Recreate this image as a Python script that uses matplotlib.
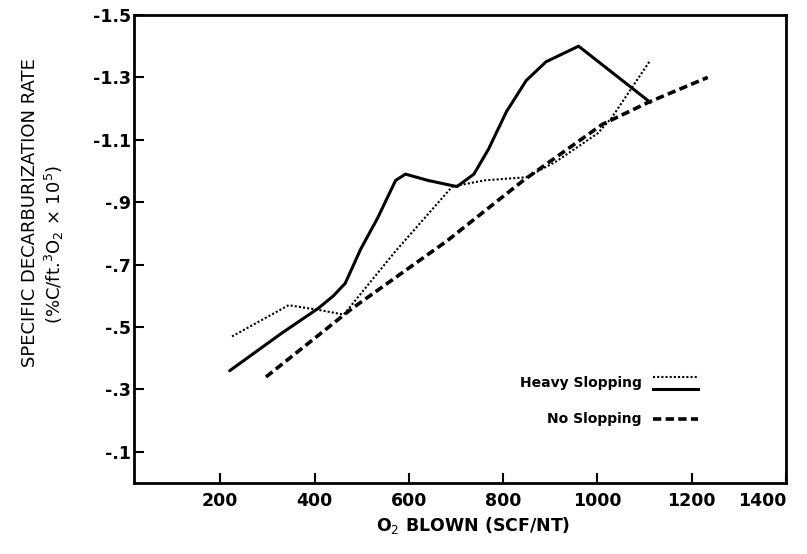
import matplotlib
matplotlib.use("Agg")
import matplotlib.pyplot as plt

# O2 blown (SCF/NT) vs specific decarburization rate
heavy_solid_o2 = [220, 330, 408, 440, 465, 498, 534, 572, 593, 640, 702, 738, 769, 807, 849, 891, 960, 1112]
heavy_solid_rate = [-0.36, -0.48, -0.56, -0.60, -0.64, -0.75, -0.85, -0.97, -0.99, -0.97, -0.95,
                    -0.99, -1.07, -1.19, -1.29, -1.35, -1.40, -1.22]

heavy_dotted_o2 = [225, 345, 408, 462, 570, 692, 760, 850, 912, 1000, 1030, 1110]
heavy_dotted_rate = [-0.47, -0.57, -0.555, -0.54, -0.74, -0.95, -0.97, -0.98, -1.03, -1.12, -1.17, -1.35]

no_slop_o2 = [297, 480, 680, 843, 1011, 1108, 1234]
no_slop_rate = [-0.34, -0.56, -0.775, -0.97, -1.15, -1.22, -1.30]

x_ticks = [200, 400, 600, 800, 1000, 1200, 1400]
x_tick_labels = ["200", "400", "600", "800", "1000", "1200", "1400"]
y_ticks = [-1.5, -1.3, -1.1, -0.9, -0.7, -0.5, -0.3, -0.1]
y_tick_labels = ["-1.5", "-1.3", "-1.1", "-.9", "-.7", "-.5", "-.3", "-.1"]

fig = plt.figure(figsize=(8.07, 5.54), dpi=100)
ax = fig.add_axes([0.166, 0.128, 0.808, 0.845])

ax.plot(heavy_solid_o2, heavy_solid_rate, color="black", lw=2.2,
        solid_joinstyle="round", solid_capstyle="round")
ax.plot(heavy_dotted_o2, heavy_dotted_rate, color="black", lw=1.5,
        linestyle=(0, (1.0, 1.0)))
ax.plot(no_slop_o2, no_slop_rate, color="black", lw=2.6, dashes=(2.3, 1.2))

ax.set_xlim(17, 1400)
ax.set_ylim(0, -1.5)

ax.set_xticks(x_ticks)
ax.set_xticklabels(x_tick_labels, fontsize=12.5, fontweight="bold")
ax.set_yticks(y_ticks)
ax.set_yticklabels(y_tick_labels, fontsize=12.5, fontweight="bold")

# the last x label sits at the right edge, so right-align it to keep it inside
ax.get_xticklabels()[-1].set_horizontalalignment("right")

for spine in ax.spines.values():
    spine.set_linewidth(2.0)
ax.tick_params(axis="both", direction="in", length=7, width=1.5)
ax.tick_params(axis="x", pad=6.5)
ax.tick_params(axis="y", pad=2)

# legend drawn by hand: two strokes for the heavy-slopping pair
ax.text(0.779, 0.214, "Heavy Slopping", transform=ax.transAxes, ha="right",
        va="center", fontsize=10, fontweight="bold")
ax.text(0.779, 0.137, "No Slopping", transform=ax.transAxes, ha="right",
        va="center", fontsize=10, fontweight="bold")
ax.plot([0.796, 0.865], [0.226, 0.226], transform=ax.transAxes, color="black",
        lw=1.5, linestyle=(0, (1.0, 1.0)))
ax.plot([0.796, 0.865], [0.201, 0.201], transform=ax.transAxes, color="black", lw=2.2)
ax.plot([0.796, 0.865], [0.137, 0.137], transform=ax.transAxes, color="black",
        lw=2.6, dashes=(2.3, 1.2))

fig.text(0.037, 0.617, "SPECIFIC DECARBURIZATION RATE", rotation=90,
         ha="center", va="center", fontsize=13)
fig.text(0.068, 0.558, r"(%C/ft.$^{3}$O$_{2}$ × 10$^{5}$)", rotation=90,
         ha="center", va="center", fontsize=13)
fig.text(0.586, 0.052, r"O$_{2}$ BLOWN (SCF/NT)", ha="center", va="center",
         fontsize=12.5, fontweight="bold")

fig.savefig("out.png", dpi=100)
